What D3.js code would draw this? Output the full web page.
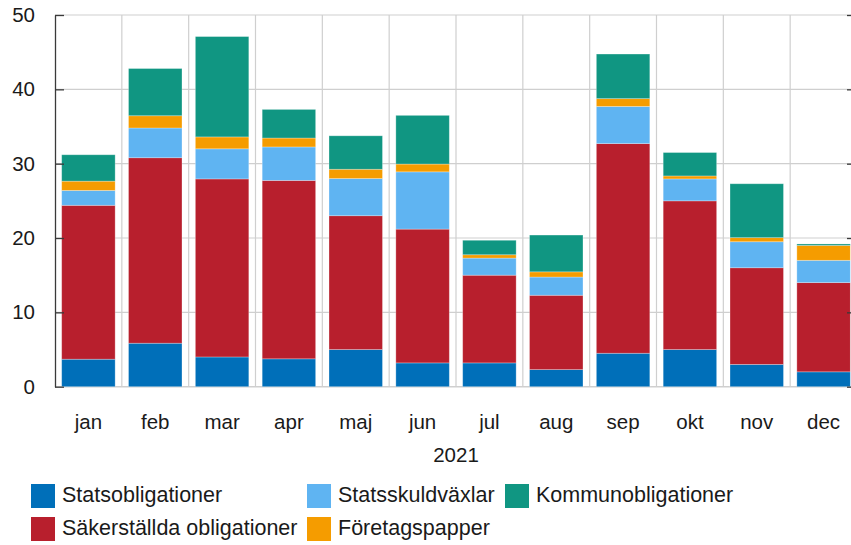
<!DOCTYPE html>
<html>
<head>
<meta charset="utf-8">
<script src="https://cdn.jsdelivr.net/npm/d3@7"></script>
<style>
  body { margin: 0; background: #fff; }
  svg { display: block; font-family: "Liberation Sans", sans-serif; }
</style>
</head>
<body>
<svg id="chart"></svg>
<script>
const months = ["jan", "feb", "mar", "apr", "maj", "jun", "jul", "aug", "sep", "okt", "nov", "dec"];
const statsobligationer = [3.7, 5.85, 4.0, 3.75, 5.0, 3.2, 3.2, 2.3, 4.5, 5.0, 3.0, 2.0];
const sakerstallda = [20.7, 24.95, 23.95, 24.0, 18.0, 18.0, 11.8, 10.0, 28.2, 20.0, 13.0, 12.0];
const statsskuldvaxlar = [2.0, 4.0, 4.05, 4.5, 5.0, 7.7, 2.3, 2.45, 5.0, 2.95, 3.5, 3.0];
const foretagspapper = [1.25, 1.65, 1.6, 1.2, 1.25, 1.05, 0.45, 0.7, 1.05, 0.4, 0.55, 2.0];
const kommunobligationer = [3.55, 6.35, 13.5, 3.85, 4.5, 6.55, 1.95, 4.95, 6.0, 3.15, 7.25, 0.2];
const yearLabel = "2021";
const yTicks = [0, 10, 20, 30, 40, 50];

const series = [
  { key: "stats", name: "Statsobligationer", values: statsobligationer, color: "#006fb9" },
  { key: "sak", name: "Säkerställda obligationer", values: sakerstallda, color: "#b81f2d" },
  { key: "vax", name: "Statsskuldväxlar", values: statsskuldvaxlar, color: "#5fb4f2" },
  { key: "fore", name: "Företagspapper", values: foretagspapper, color: "#f59c00" },
  { key: "kom", name: "Kommunobligationer", values: kommunobligationer, color: "#109682" },
];

const width = 851;
const height = 545;
const plotLeft = 55, plotRight = 857, plotTop = 15, plotBottom = 386.7;

const svg = d3.select("#chart").attr("width", width).attr("height", height);

const table = months.map((m, i) => {
  const row = { month: m };
  series.forEach((s) => (row[s.key] = s.values[i]));
  return row;
});
const stacked = d3.stack().keys(series.map((s) => s.key))(table);

const x = d3.scaleBand().domain(months).range([plotLeft, plotRight]).paddingInner(0.2).paddingOuter(0.1);
const y = d3.scaleLinear().domain([0, 50]).range([plotBottom, plotTop]);

const grid = "#cfcfcf";

// horizontal gridlines
svg.append("g")
  .selectAll("line")
  .data(yTicks.filter((d) => d > 0))
  .join("line")
  .attr("x1", plotLeft).attr("x2", plotRight)
  .attr("y1", (d) => y(d)).attr("y2", (d) => y(d))
  .attr("stroke", grid).attr("stroke-width", 1.2);

// vertical gridlines between months
svg.append("g")
  .selectAll("line")
  .data(months.slice(1))
  .join("line")
  .attr("x1", (d) => x(d) - x.step() * x.paddingInner() / 2)
  .attr("x2", (d) => x(d) - x.step() * x.paddingInner() / 2)
  .attr("y1", plotTop).attr("y2", plotBottom)
  .attr("stroke", grid).attr("stroke-width", 1.2);

// baseline
svg.append("line")
  .attr("x1", plotLeft).attr("x2", plotRight)
  .attr("y1", y(0)).attr("y2", y(0))
  .attr("stroke", grid).attr("stroke-width", 1.5);

// bars
svg.append("g")
  .selectAll("g")
  .data(stacked)
  .join("g")
  .attr("fill", (d, i) => series[i].color)
  .selectAll("rect")
  .data((d) => d)
  .join("rect")
  .attr("x", (d) => x(d.data.month))
  .attr("width", x.bandwidth())
  .attr("y", (d) => y(d[1]))
  .attr("height", (d) => y(d[0]) - y(d[1]))
  .attr("stroke", "#ffffff")
  .attr("stroke-opacity", 0.35)
  .attr("stroke-width", 0.8);

// left axis
const yAxis = svg.append("g")
  .attr("transform", `translate(${plotLeft},0)`)
  .call(d3.axisLeft(y).tickValues(yTicks).tickSizeInner(-9).tickSizeOuter(0).tickPadding(20));
yAxis.select(".domain").attr("stroke", "#3a3a3a").attr("stroke-width", 1.3);
yAxis.selectAll(".tick line").attr("stroke", "#3a3a3a").attr("stroke-width", 1.3);
yAxis.selectAll(".tick text")
  .attr("font-size", 20.5).attr("fill", "#1a1a1a")
  .attr("font-family", "Liberation Sans, sans-serif");

// right axis (ticks only visible near the edge)
const yAxisR = svg.append("g")
  .attr("transform", `translate(${plotRight},0)`)
  .call(d3.axisRight(y).tickValues(yTicks).tickSizeInner(-10).tickSizeOuter(0).tickFormat(""));
yAxisR.select(".domain").attr("stroke", "#3a3a3a");
yAxisR.selectAll(".tick line").attr("stroke", "#3a3a3a").attr("stroke-width", 1.3);

// month labels
const xAxis = svg.append("g")
  .attr("transform", `translate(0,${plotBottom})`)
  .call(d3.axisBottom(x).tickSize(0).tickPadding(28));
xAxis.select(".domain").remove();
xAxis.selectAll(".tick text")
  .attr("font-size", 20.5).attr("fill", "#1a1a1a")
  .attr("font-family", "Liberation Sans, sans-serif");

svg.append("text")
  .attr("x", (plotLeft + plotRight) / 2)
  .attr("y", 457)
  .attr("text-anchor", "middle")
  .attr("dominant-baseline", "middle")
  .attr("font-size", 20.5)
  .attr("fill", "#1a1a1a")
  .text(yearLabel);

// legend
const legendItems = [
  { s: series[0], x: 31, y: 484 },
  { s: series[2], x: 307, y: 484 },
  { s: series[4], x: 505, y: 484 },
  { s: series[1], x: 31, y: 517 },
  { s: series[3], x: 307, y: 517 },
];
const legend = svg.append("g")
  .selectAll("g")
  .data(legendItems)
  .join("g")
  .attr("transform", (d) => `translate(${d.x},${d.y})`);
legend.append("rect")
  .attr("width", 24).attr("height", 24)
  .attr("fill", (d) => d.s.color);
legend.append("text")
  .attr("x", 31).attr("y", 12.5)
  .attr("dominant-baseline", "middle")
  .attr("font-size", 21.5)
  .attr("fill", "#1a1a1a")
  .text((d) => d.s.name);
</script>
</body>
</html>
